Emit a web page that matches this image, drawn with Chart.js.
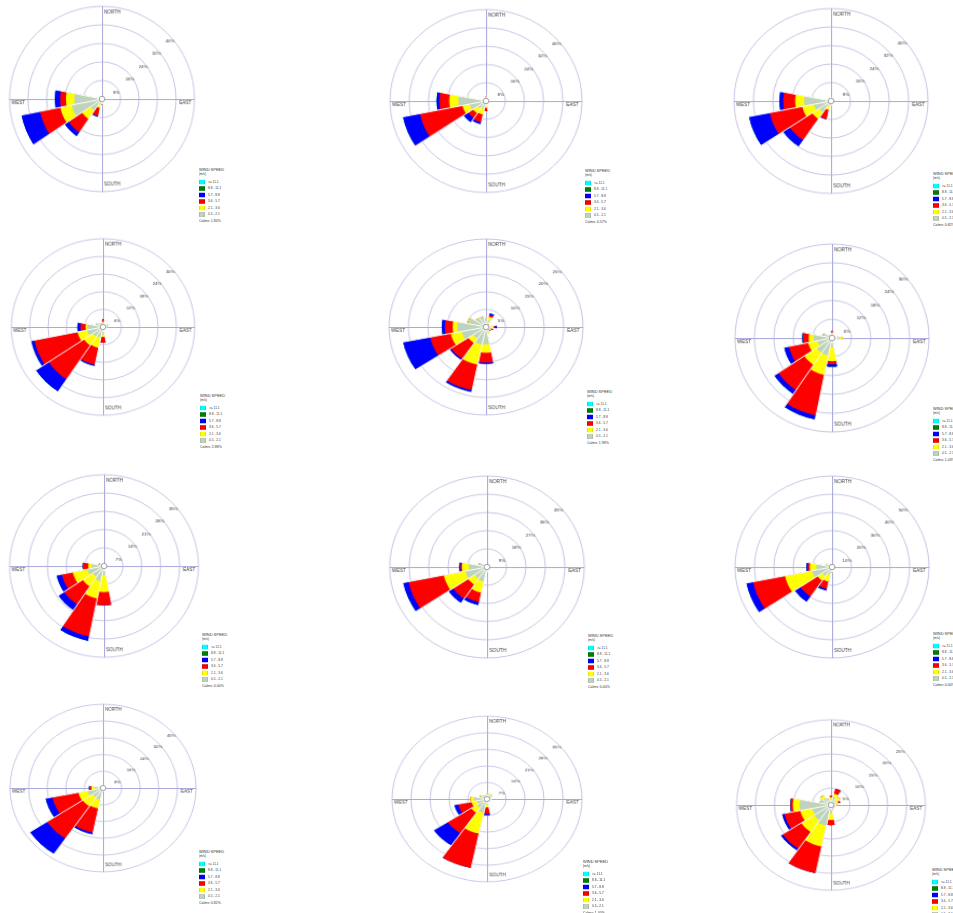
<!DOCTYPE html>
<html><head><meta charset="utf-8">
<script src="https://cdn.jsdelivr.net/npm/chart.js@4.4.1/dist/chart.umd.min.js"></script>
<style>
html,body{margin:0;padding:0;background:#fff;width:953px;height:913px;overflow:hidden;}
.panel{position:absolute;}
.panel canvas{display:block;}
.legend{position:absolute;width:90px;height:120px;transform:scale(0.5);transform-origin:0 0;font-family:"Liberation Sans",Arial,sans-serif;color:#333;}
.legend div{position:absolute;white-space:nowrap;line-height:1;transform:translateY(-50%);}
</style></head><body>
<script>
// ---------- categories ----------
const directions = ['N','NNE','NE','ENE','E','ESE','SE','SSE','S','SSW','SW','WSW','W','WNW','NW','NNW'];
const speedBins = ['0.5 - 2.1','2.1 - 3.6','3.6 - 5.7','5.7 - 8.8','8.8 - 11.1','>= 11.1'];
const binColors = ['#bed3be','#ffff00','#ff0000','#0000ff','#008000','#00ffff'];
const calms = ['1.84%','4.57%','0.82%','2.88%','1.98%','1.43%','0.00%','0.00%','0.00%','0.82%','1.40%','0.00%'];
// no winds above 8.8 m/s in any panel
const noWind88_111 = [0,0,0,0,0,0,0,0,0,0,0,0,0,0,0,0];
const noWind111 = [0,0,0,0,0,0,0,0,0,0,0,0,0,0,0,0];

// ---------- ring tick values (%) ----------
const p1_rings = [8,16,24,32,40];
const p2_rings = [8,16,24,32,40];
const p3_rings = [8,16,24,32,40];
const p4_rings = [6,12,18,24,30];
const p5_rings = [5,10,15,20,25];
const p6_rings = [6,12,18,24,30];
const p7_rings = [7,14,21,28,35];
const p8_rings = [9,18,27,36,45];
const p9_rings = [10,20,30,40,50];
const p10_rings = [8,16,24,32,40];
const p11_rings = [7,14,21,28,35];
const p12_rings = [5,10,15,20,25];

// ---------- frequencies (%) per speed bin, order N..NNW ----------
const p1_s05 = [0.2,0.1,0.1,0.1,0.1,0.1,0.1,0.3,1.5,2.5,6.0,13.3,12.0,0.4,0.3,0.2];
const p1_s21 = [0,0,0,0,0,0,0,0.1,0.8,1.5,4.4,5.1,3.6,0,0,0];
const p1_s36 = [0,0,0,0,0,0,0,0,0.2,3.5,7.0,8.9,2.5,0,0,0];
const p1_s57 = [0,0,0,0,0,0,0,0,0,0.3,2.0,8.2,2.3,0,0,0];

const p2_s05 = [0.8,0.4,0.2,0.2,0.3,0.3,0.3,0.5,2.0,3.5,4.0,6.9,11.5,0.6,0.3,0.4];
const p2_s21 = [0.6,0.1,0,0,0,0,0,0.2,1.0,2.5,2.5,3.1,3.8,0,0,0];
const p2_s36 = [0.8,0,0,0,0,0,0,0,1.4,3.5,2.5,18.1,4.1,0,0,0];
const p2_s57 = [0,0,0,0,0,0,0,0,0,0.8,2.2,7.2,1.2,0,0,0];

const p3_s05 = [0.3,0.4,0.2,0.1,0.1,0.1,0.2,0.4,1.0,2.5,5.8,7.2,11.1,0.5,0.3,0.3];
const p3_s21 = [0,0.3,0,0,0,0,0,0,0.5,1.5,3.5,4.9,3.7,0,0,0];
const p3_s36 = [0,0.3,0,0,0,0,0,0,0.3,4.0,11.2,13.7,4.9,0,0,0];
const p3_s57 = [0,0.2,0,0,0,0,0,0,0,0.2,3.2,8.7,1.6,0,0,0];

const p4_s05 = [1.0,0.8,0.8,1.5,1.0,0.5,0.5,0.8,2.5,3.6,4.0,5.3,5.2,2.5,1.5,0.8];
const p4_s21 = [0.5,0.2,0,0.3,0,0,0,0,0.8,3.6,3.5,3.2,0.5,0,0,0.5];
const p4_s36 = [1.2,0,0,0,0,0,0,0,2.0,5.9,13.9,14.4,1.7,0,0,0];
const p4_s57 = [0,0,0,0,0,0,0,0,0,0.4,5.0,1.0,1.0,0,0,0];

const p5_s05 = [2.5,2.0,0.8,0.8,1.5,1.0,0.8,1.5,4.9,5.1,4.0,6.4,7.4,4.5,3.0,2.8];
const p5_s21 = [0.3,1.0,0.2,0,0.5,0.3,0.2,0.3,2.4,5.8,1.5,2.9,1.2,0.3,0.2,0.2];
const p5_s36 = [0,0.5,0,0,0.3,0.6,0.4,0,2.8,7.4,5.4,5.4,2.0,0,0,0];
const p5_s57 = [0,0.5,0,0,0.5,0,0,0,0.4,0.5,0.4,7.1,0.8,0,0,0];

const p6_s05 = [1.2,0.5,0.5,1.0,2.5,0.6,0.5,1.0,2.9,5.7,5.7,4.5,5.7,3.0,1.2,0.8];
const p6_s21 = [0.3,0,0,0,0.8,0,0,0,4.5,6.3,4.6,3.0,1.5,0,0,0];
const p6_s36 = [0.8,0,0,0,0,0,0,0,1.0,13.2,9.7,6.1,1.8,0,0,0];
const p6_s57 = [0,0,0,0,0,0,0,0,0.8,1.3,1.5,1.5,0.2,0,0,0];

const p7_s05 = [0.4,0.3,0.2,0.2,0.3,0.3,0.4,0.8,3.5,6.0,5.0,6.2,4.6,1.5,0.8,0.4];
const p7_s21 = [0,0,0,0,0,0,0,0,6.5,6.7,4.5,5.6,1.2,0.3,0,0];
const p7_s36 = [0.3,0,0,0,0,0,0,0,5.1,14.9,8.3,4.1,2.1,0.3,0,0];
const p7_s57 = [0,0,0,0,0,0,0,0,0,1.7,2.5,2.0,0,0,0,0];

const p8_s05 = [0.3,0.3,0.2,0.2,0.2,0.2,0.3,0.5,2.0,7.3,7.0,10.2,8.5,4.0,0.5,0.3];
const p8_s21 = [0,0,0,0,0,0,0,0,0.5,5.7,3.5,10.2,3.1,0,0,0];
const p8_s36 = [0,0,0,0,0,0,0,0,0,4.7,8.4,16.6,0.7,0,0,0];
const p8_s57 = [0,0,0,0,0,0,0,0,0,1.5,2.5,2.5,0.5,0,0,0];

const p9_s05 = [0.3,0.3,0.2,0.2,0.2,0.2,0.3,0.5,2.0,4.5,6.0,10.5,8.1,3.5,0.5,0.3];
const p9_s21 = [0,0,0,0,0,0,0,0,1.0,3.7,3.0,14.2,3.4,0,0,0];
const p9_s36 = [0,0,0,0,0,0,0,0,0,4.1,10.6,16.8,1.0,0,0,0];
const p9_s57 = [0,0,0,0,0,0,0,0,0,1.0,3.5,3.5,0.7,0,0,0];

const p10_s05 = [0.3,0.2,0.2,0.1,0.1,0.1,0.2,0.4,1.0,5.8,5.4,6.7,3.5,1.5,0.5,0.3];
const p10_s21 = [0,0,0,0,0,0,0,0,0.3,4.2,5.1,4.1,1.5,0,0,0];
const p10_s36 = [0,0,0,0,0,0,0,0,0,11.7,18.5,11.4,0.7,0,0,0];
const p10_s57 = [0,0,0,0,0,0,0,0,0,0.8,8.8,3.0,0.3,0,0,0];

const p11_s05 = [2.0,1.5,2.0,1.5,1.5,0.8,0.8,1.0,2.5,5.9,4.5,3.7,4.9,2.5,2.0,1.5];
const p11_s21 = [0,1.0,0.3,0,0,0,0,0,1.0,9.0,2.5,2.1,1.2,0.3,0,0];
const p11_s36 = [0,0,0,0,0,0,0,0,2.8,14.8,10.5,5.0,0,0,0,0];
const p11_s57 = [0,0,0,0,0,0,0,0,0.5,0,6.1,1.5,0,0,0,0];

const p12_s05 = [1.5,2.4,1.8,1.5,1.2,1.0,1.0,1.5,2.4,6.2,5.4,5.1,8.3,3.0,2.5,2.0];
const p12_s21 = [0.8,1.0,1.2,0.5,0.3,0,0,0,2.0,6.2,4.1,3.2,1.8,0,1.0,0];
const p12_s36 = [0.5,1.5,0,0.5,0,0,0,0,1.5,8.0,5.9,4.3,0.6,0,0,0];
const p12_s57 = [0,0,0,0,0,0,0,0,0,0,0.6,0.6,0.1,0,0,0];

// ---------- panel placement on the page ----------
const panelLayout = [
  {cx:101.7, cy:99,    rx:92.5, ry:92.7, lx:199, ly:169},
  {cx:486,   cy:100.7, rx:96,   ry:91.5, lx:585, ly:170},
  {cx:831,   cy:100.7, rx:97,   ry:92.5, lx:933, ly:173},
  {cx:103.3, cy:327,   rx:91.7, ry:88.3, lx:200, ly:395},
  {cx:486,   cy:327,   rx:97,   ry:88,   lx:587, ly:391},
  {cx:831.7, cy:337.5, rx:97,   ry:94,   lx:933, ly:408},
  {cx:104.3, cy:565.5, rx:94.5, ry:91.3, lx:202, ly:634},
  {cx:486.7, cy:567,   rx:97.3, ry:91,   lx:588, ly:635},
  {cx:831.7, cy:567.3, rx:97,   ry:91,   lx:933, ly:633},
  {cx:103.3, cy:788,   rx:93,   ry:83.8, lx:199, ly:851},
  {cx:486.7, cy:799,   rx:95,   ry:82.8, lx:583, ly:861},
  {cx:830.6, cy:805,   rx:94.5, ry:85.3, lx:932, ly:869}
];

const panels = [
  {bins:[p1_s05,p1_s21,p1_s36,p1_s57,noWind88_111,noWind111], rings:p1_rings},
  {bins:[p2_s05,p2_s21,p2_s36,p2_s57,noWind88_111,noWind111], rings:p2_rings},
  {bins:[p3_s05,p3_s21,p3_s36,p3_s57,noWind88_111,noWind111], rings:p3_rings},
  {bins:[p4_s05,p4_s21,p4_s36,p4_s57,noWind88_111,noWind111], rings:p4_rings},
  {bins:[p5_s05,p5_s21,p5_s36,p5_s57,noWind88_111,noWind111], rings:p5_rings},
  {bins:[p6_s05,p6_s21,p6_s36,p6_s57,noWind88_111,noWind111], rings:p6_rings},
  {bins:[p7_s05,p7_s21,p7_s36,p7_s57,noWind88_111,noWind111], rings:p7_rings},
  {bins:[p8_s05,p8_s21,p8_s36,p8_s57,noWind88_111,noWind111], rings:p8_rings},
  {bins:[p9_s05,p9_s21,p9_s36,p9_s57,noWind88_111,noWind111], rings:p9_rings},
  {bins:[p10_s05,p10_s21,p10_s36,p10_s57,noWind88_111,noWind111], rings:p10_rings},
  {bins:[p11_s05,p11_s21,p11_s36,p11_s57,noWind88_111,noWind111], rings:p11_rings},
  {bins:[p12_s05,p12_s21,p12_s36,p12_s57,noWind88_111,noWind111], rings:p12_rings}
];

const R0 = 90, PAD = 2, S = 2 * R0 + 2 * PAD;
const FONT = '"Liberation Sans", Arial, sans-serif';

const roseDecor = {
  id: 'roseDecor',
  beforeDatasetsDraw(chart) {
    const s = chart.scales.r, ctx = chart.ctx;
    const cx = s.xCenter, cy = s.yCenter, R = s.drawingArea;
    ctx.save();
    ctx.strokeStyle = '#a9a9dc';
    ctx.lineWidth = 1;
    ctx.beginPath();
    ctx.moveTo(cx - R, cy + 0.5); ctx.lineTo(cx + R, cy + 0.5);
    ctx.moveTo(cx + 0.5, cy - R); ctx.lineTo(cx + 0.5, cy + R);
    ctx.stroke();
    ctx.restore();
  },
  afterDatasetsDraw(chart, args, opts) {
    const s = chart.scales.r, ctx = chart.ctx;
    const cx = s.xCenter, cy = s.yCenter, R = s.drawingArea;
    const ds = chart.data.datasets;
    const totals = ds[ds.length - 1].data;
    const n = totals.length;
    ctx.save();
    // white separators between direction petals
    ctx.strokeStyle = '#ffffff';
    ctx.lineWidth = 1;
    for (let j = 0; j < n; j++) {
      const v = Math.max(totals[j], totals[(j + n - 1) % n]);
      if (v <= 0) continue;
      const len = s.getDistanceFromCenterForValue(v) + 1;
      const a = (-90 - 180 / n + j * 360 / n) * Math.PI / 180;
      ctx.beginPath();
      ctx.moveTo(cx, cy);
      ctx.lineTo(cx + len * Math.cos(a), cy + len * Math.sin(a));
      ctx.stroke();
    }
    // calm circle
    ctx.beginPath();
    ctx.arc(cx, cy, 2.7, 0, Math.PI * 2);
    ctx.fillStyle = '#ffffff';
    ctx.fill();
    ctx.strokeStyle = '#8a8a8a';
    ctx.lineWidth = 0.8;
    ctx.stroke();
    // compass labels
    ctx.fillStyle = '#3a3a3a';
    ctx.font = '4.5px ' + FONT;
    ctx.textBaseline = 'middle';
    ctx.textAlign = 'left';
    ctx.fillText('NORTH', cx + 2, cy - R + 6);
    ctx.fillText('SOUTH', cx + 2, cy + R - 7.5);
    ctx.fillText('WEST', cx - R + 2, cy + 4);
    ctx.textAlign = 'right';
    ctx.fillText('EAST', cx + R - 3, cy + 4);
    // ring labels along a diagonal
    ctx.textAlign = 'center';
    ctx.font = '4.4px ' + FONT;
    const ang = 43.7 * Math.PI / 180;
    opts.rings.forEach(v => {
      const r = s.getDistanceFromCenterForValue(v);
      ctx.fillText(v + '%', cx + r * Math.cos(ang) + 1, cy - r * Math.sin(ang) + 6);
    });
    ctx.restore();
  }
};

function makeLegend(L, calm) {
  const lg = document.createElement('div');
  lg.className = 'legend';
  lg.style.left = L.lx + 'px';
  lg.style.top = (L.ly - 2.5) + 'px';
  const add = (txt, x, y, size) => {
    const d = document.createElement('div');
    d.textContent = txt;
    d.style.left = x + 'px'; d.style.top = y + 'px'; d.style.fontSize = size + 'px';
    lg.appendChild(d);
  };
  add('WIND SPEED', 0, 5, 7.9);
  add('(m/s)', 0, 14.4, 6.3);
  for (let k = speedBins.length - 1, row = 0; k >= 0; k--, row++) {
    const y = 30 + row * 13;
    const b = document.createElement('div');
    b.style.left = '0px'; b.style.top = y + 'px';
    b.style.width = '12px'; b.style.height = '9px';
    b.style.background = binColors[k];
    b.style.boxShadow = 'inset 0 0 0 0.6px rgba(0,0,0,0.35)';
    lg.appendChild(b);
    add(speedBins[k], 18, y, 6.4);
  }
  add('Calms: ' + calm, 0, 107, 7.0);
  document.body.appendChild(lg);
}

function makePanel(p, L, calm) {
  const wrap = document.createElement('div');
  wrap.className = 'panel';
  wrap.style.left = (L.cx - (R0 + PAD)) + 'px';
  wrap.style.top = (L.cy - (R0 + PAD)) + 'px';
  wrap.style.width = S + 'px';
  wrap.style.height = S + 'px';
  wrap.style.transformOrigin = (R0 + PAD) + 'px ' + (R0 + PAD) + 'px';
  wrap.style.transform = 'scale(' + (L.rx / R0) + ',' + (L.ry / R0) + ')';
  const cv = document.createElement('canvas');
  cv.width = S; cv.height = S;
  cv.style.width = S + 'px'; cv.style.height = S + 'px';
  wrap.appendChild(cv);
  document.body.appendChild(wrap);

  // cumulative stacks so that each speed band sits on top of the slower ones
  const stacks = [];
  let run = directions.map(() => 0);
  p.bins.forEach(b => { run = run.map((v, j) => v + b[j]); stacks.push(run.slice()); });
  const datasets = stacks.map((d, k) => ({
    label: speedBins[k], data: d, backgroundColor: binColors[k], borderWidth: 0
  }));
  const rings = p.rings;
  new Chart(cv, {
    type: 'polarArea',
    data: { labels: directions, datasets },
    options: {
      responsive: false,
      animation: false,
      events: [],
      layout: { padding: PAD },
      plugins: { legend: { display: false }, tooltip: { enabled: false }, roseDecor: { rings } },
      scales: {
        r: {
          min: 0, max: rings[rings.length - 1],
          startAngle: -180 / directions.length,
          ticks: { display: false, stepSize: rings[0] },
          grid: { color: '#c6c6e6', lineWidth: 1, circular: true },
          angleLines: { display: false },
          pointLabels: { display: false }
        }
      }
    },
    plugins: [roseDecor]
  });
  makeLegend(L, calm);
}

panels.forEach((p, i) => makePanel(p, panelLayout[i], calms[i]));
</script>
</body></html>
